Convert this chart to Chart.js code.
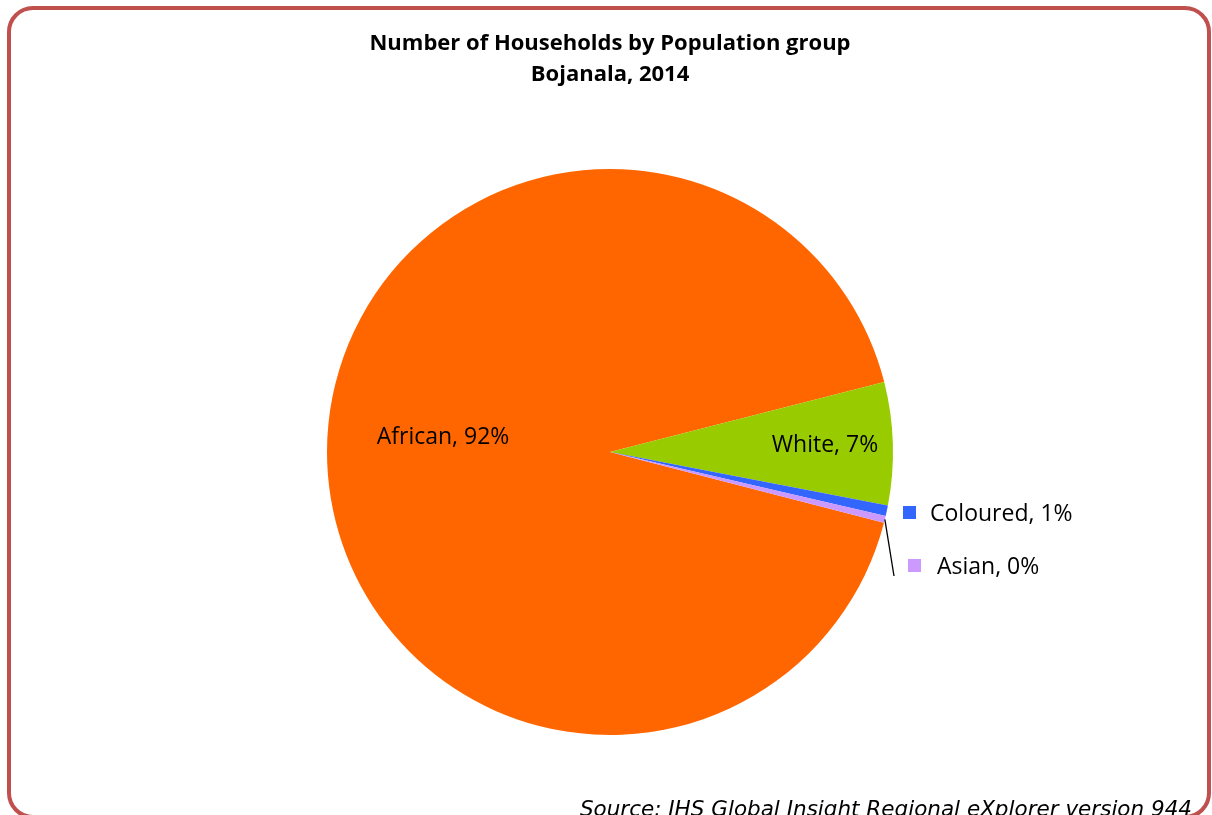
<!DOCTYPE html>
<html>
<head>
<meta charset="utf-8">
<script src="https://cdn.jsdelivr.net/npm/chart.js@4"></script>
<style>
  body { margin: 0; background: #fff; }
  #wrap { position: relative; width: 1212px; height: 815px; overflow: hidden; }
  #frame {
    position: absolute; left: 7px; top: 6px; width: 1196px; height: 805px;
    border: 4px solid #c0504d; border-radius: 26px; pointer-events: none;
  }
</style>
</head>
<body>
<div id="wrap">
  <canvas id="pie" width="1212" height="815"></canvas>
  <div id="frame"></div>
</div>
<script>
// Households by population group, Bojanala 2014 (share, %)
const groups = ['African', 'White', 'Coloured', 'Asian'];
const shares = [92.0, 7.0, 0.6, 0.4];
const colours = ['#ff6600', '#99cc00', '#3366ff', '#cc99ff'];
const titleLines = ['Number of Households by Population group', 'Bojanala, 2014'];
const sourceText = 'Source: IHS Global Insight Regional eXplorer version 944';

const total = shares.reduce((a, b) => a + b, 0);
const pct = v => Math.round(v / total * 100) + '%';

const labelFont = '23px "Open Sans", sans-serif';

const decorations = {
  id: 'decorations',
  afterDraw(chart) {
    const ctx = chart.ctx;
    const arcs = chart.getDatasetMeta(0).data;
    ctx.save();

    // title
    ctx.fillStyle = '#000';
    ctx.textAlign = 'center';
    ctx.textBaseline = 'middle';
    ctx.font = 'bold 22px "Open Sans", sans-serif';
    ctx.fillText(titleLines[0], 610, 44);
    ctx.fillText(titleLines[1], 610, 75);

    // inside labels (African, White)
    ctx.font = labelFont;
    const inside = [[0, 0.59, -14], [1, 0.76, 0]];
    inside.forEach(([i, f, dy]) => {
      const a = arcs[i];
      const mid = (a.startAngle + a.endAngle) / 2;
      const x = a.x + Math.cos(mid) * a.outerRadius * f;
      const y = a.y + Math.sin(mid) * a.outerRadius * f + dy;
      ctx.fillText(groups[i] + ', ' + pct(shares[i]), x, y);
    });

    // outside labels (Coloured, Asian) with legend-key squares
    const s = arcs[3];
    ctx.textAlign = 'left';
    ctx.fillStyle = colours[2];
    ctx.fillRect(903, 506, 13, 13);
    ctx.fillStyle = '#000';
    ctx.fillText(groups[2] + ', ' + pct(shares[2]), 930, 514);

    ctx.fillStyle = colours[3];
    ctx.fillRect(908, 559, 13, 13);
    ctx.fillStyle = '#000';
    ctx.fillText(groups[3] + ', ' + pct(shares[3]), 937, 567);

    // leader line from the Asian slice
    const sm = (s.startAngle + s.endAngle) / 2;
    ctx.strokeStyle = '#000';
    ctx.lineWidth = 1.3;
    ctx.beginPath();
    ctx.moveTo(s.x + Math.cos(sm) * s.outerRadius, s.y + Math.sin(sm) * s.outerRadius);
    ctx.lineTo(894, 576);
    ctx.stroke();

    // source note
    ctx.font = 'italic 21.5px "DejaVu Sans", sans-serif';
    ctx.textAlign = 'right';
    ctx.textBaseline = 'alphabetic';
    ctx.fillStyle = '#000';
    ctx.fillText(sourceText, 1192, 816);
    ctx.restore();
  }
};

new Chart(document.getElementById('pie'), {
  type: 'pie',
  data: {
    labels: groups,
    datasets: [{
      data: shares,
      backgroundColor: colours,
      borderWidth: 0,
      hoverOffset: 0
    }]
  },
  options: {
    responsive: false,
    animation: false,
    rotation: 104.5,
    layout: { padding: { left: 327, right: 319, top: 169, bottom: 80 } },
    plugins: {
      legend: { display: false },
      title: { display: false },
      tooltip: { enabled: false }
    }
  },
  plugins: [decorations]
});
</script>
</body>
</html>
